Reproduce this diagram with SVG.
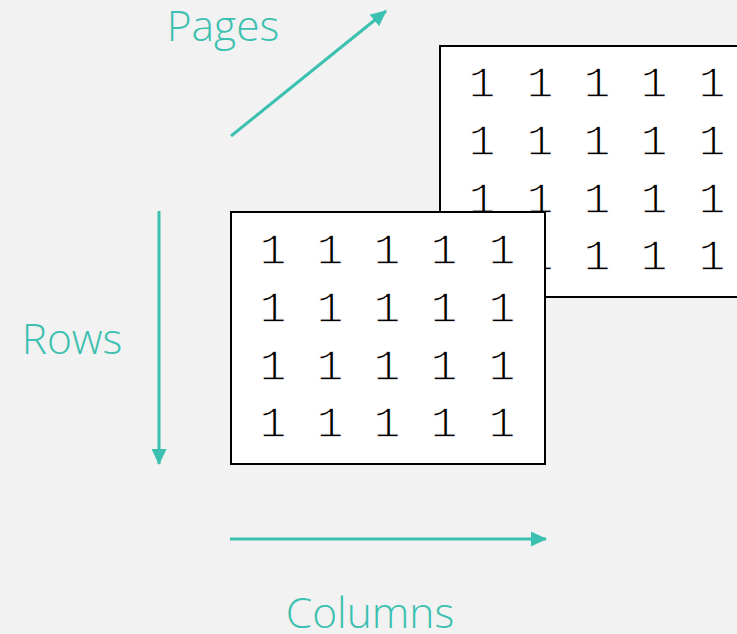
<svg xmlns="http://www.w3.org/2000/svg" width="737" height="634" viewBox="0 0 737 634">
  <style>
    .page { fill: #ffffff; stroke: #000000; stroke-width: 2; }
    .num { font-family: "Liberation Mono", "DejaVu Sans Mono", monospace; font-size: 45px; fill: #000000; stroke: #ffffff; stroke-width: 1.3; text-anchor: middle; }
    .axis { stroke: #3cc0b0; stroke-width: 3; fill: none; }
    .lbl { font-family: "Open Sans", "Noto Sans", sans-serif; font-weight: 300; font-size: 42.5px; fill: #3cc0b0; text-anchor: middle; }
  </style>
  <defs>
    <marker id="arrow" viewBox="0 0 16 16" refX="15" refY="8" markerWidth="16" markerHeight="16" markerUnits="userSpaceOnUse" orient="auto">
      <path d="M0,0.5 L16,8 L0,15.5 z" fill="#3cc0b0"/>
    </marker>
  </defs>
  <rect width="737" height="634" fill="#f2f2f2"/>

  <!-- back page -->
  <g id="page-back">
    <rect class="page" x="440" y="46" width="310" height="251"/>
    <g class="num">
      <text x="482" y="97">1</text><text x="540" y="97">1</text><text x="597" y="97">1</text><text x="654" y="97">1</text><text x="712" y="97">1</text>
      <text x="482" y="155">1</text><text x="540" y="155">1</text><text x="597" y="155">1</text><text x="654" y="155">1</text><text x="712" y="155">1</text>
      <text x="482" y="213">1</text><text x="540" y="213">1</text><text x="597" y="213">1</text><text x="654" y="213">1</text><text x="712" y="213">1</text>
      <text x="482" y="270">1</text><text x="540" y="270">1</text><text x="597" y="270">1</text><text x="654" y="270">1</text><text x="712" y="270">1</text>
    </g>
  </g>

  <!-- front page -->
  <g id="page-front">
    <rect class="page" x="231" y="212" width="314" height="252"/>
    <g class="num">
      <text x="273" y="264">1</text><text x="330" y="264">1</text><text x="387" y="264">1</text><text x="444" y="264">1</text><text x="502" y="264">1</text>
      <text x="273" y="322">1</text><text x="330" y="322">1</text><text x="387" y="322">1</text><text x="444" y="322">1</text><text x="502" y="322">1</text>
      <text x="273" y="380">1</text><text x="330" y="380">1</text><text x="387" y="380">1</text><text x="444" y="380">1</text><text x="502" y="380">1</text>
      <text x="273" y="437">1</text><text x="330" y="437">1</text><text x="387" y="437">1</text><text x="444" y="437">1</text><text x="502" y="437">1</text>
    </g>
  </g>

  <!-- axis arrows -->
  <g id="connectors">
    <line class="axis" x1="231" y1="136" x2="386" y2="11" marker-end="url(#arrow)"/>
    <line class="axis" x1="159" y1="211" x2="159" y2="464" marker-end="url(#arrow)"/>
    <line class="axis" x1="230" y1="539" x2="546" y2="539" marker-end="url(#arrow)"/>
  </g>

  <g id="label-pages"><text class="lbl" x="223" y="41">Pages</text></g>
  <g id="label-rows"><text class="lbl" x="72" y="354">Rows</text></g>
  <g id="label-columns"><text class="lbl" x="370" y="628">Columns</text></g>
</svg>
